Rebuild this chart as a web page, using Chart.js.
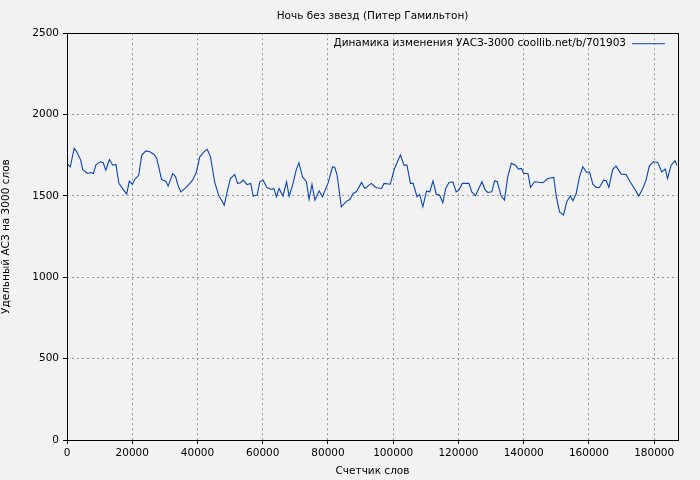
<!DOCTYPE html>
<html>
<head>
<meta charset="utf-8">
<script src="https://cdn.jsdelivr.net/npm/chart.js@4/dist/chart.umd.min.js"></script>
<style>
  html, body { margin: 0; padding: 0; background: #f2f2f2; }
  #wrap { width: 700px; height: 480px; }
</style>
</head>
<body>
<div id="wrap"><canvas id="chart" width="700" height="480"></canvas></div>
<script>
// счетчик слов (ось X)
const wordCounts = [
  0, 1000, 2200, 3000, 4200, 4800, 6200, 7300, 8100, 8900,
  10300, 11100, 11900, 13000, 14000, 15000, 15900, 17200, 18300, 19100,
  20000, 20800, 22000, 22900, 24200, 25400, 26700, 27500, 29000, 30300,
  31000, 32400, 33300, 34100, 34900, 36700, 38500, 39700, 40700, 42000,
  43000, 44000, 45300, 46600, 47400, 48200, 49100, 50100, 51400, 52300,
  53200, 54000, 55200, 56300, 57100, 58300, 59100, 60100, 61300, 62700,
  63400, 64200, 65000, 66200, 67300, 68100, 69300, 70300, 71100, 72200,
  73400, 74200, 75100, 76000, 77300, 78300, 80000, 81400, 82100, 82800,
  84100, 85700, 86700, 87700, 88700, 90300, 91300, 92600, 93300, 94800,
  96400, 97200, 99100, 100400, 102200, 103300, 104200, 105300, 106100, 107300,
  108100, 109100, 110200, 111200, 112200, 113200, 114200, 115200, 116100, 117100,
  118300, 119300, 120100, 121200, 123200, 124100, 125200, 127200, 128200, 129000,
  130200, 131100, 131900, 133100, 134100, 135100, 136200, 137500, 138400, 139300,
  140000, 141300, 142100, 143300, 145900, 147400, 149200, 150000, 151000, 152200,
  153200, 154300, 155100, 156100, 157100, 158100, 159300, 160200, 161200, 162200,
  163200, 164500, 165300, 166100, 167300, 168300, 169900, 171400, 172600, 173600,
  175300, 176500, 177500, 178500, 179800, 181100, 182300, 183400, 184100, 185200,
  186400, 187000
];

// удельный АСЗ на 3000 слов
const asz3000 = [
  1700, 1679, 1792, 1771, 1720, 1663, 1638, 1644, 1638, 1693,
  1710, 1704, 1658, 1724, 1689, 1693, 1577, 1540, 1511, 1591,
  1572, 1601, 1628, 1751, 1777, 1771, 1755, 1730, 1601, 1591,
  1560, 1638, 1617, 1560, 1525, 1556, 1597, 1648, 1740, 1771,
  1786, 1740, 1581, 1499, 1474, 1443, 1525, 1607, 1632, 1577,
  1581, 1597, 1570, 1577, 1499, 1505, 1587, 1597, 1552, 1540,
  1546, 1495, 1546, 1499, 1587, 1499, 1577, 1663, 1704, 1617,
  1587, 1478, 1572, 1474, 1531, 1495, 1577, 1679, 1675, 1628,
  1433, 1468, 1478, 1515, 1525, 1583, 1546, 1566, 1577, 1550,
  1546, 1577, 1572, 1669, 1751, 1689, 1689, 1577, 1577, 1495,
  1509, 1433, 1529, 1525, 1593, 1509, 1505, 1458, 1546, 1583,
  1587, 1525, 1536, 1577, 1577, 1525, 1501, 1587, 1536, 1521,
  1525, 1593, 1587, 1499, 1474, 1617, 1700, 1689, 1665, 1669,
  1638, 1638, 1552, 1587, 1581, 1607, 1614, 1495, 1402, 1382,
  1464, 1501, 1470, 1515, 1617, 1679, 1644, 1648, 1572, 1552,
  1552, 1597, 1593, 1552, 1663, 1683, 1634, 1632, 1587, 1556,
  1499, 1546, 1597, 1683, 1710, 1706, 1648, 1665, 1607, 1689,
  1716, 1689
];

const xTicks = [0, 20000, 40000, 60000, 80000, 100000, 120000, 140000, 160000, 180000];
const yTicks = [0, 500, 1000, 1500, 2000, 2500];

const lineColor = '#0a44b3';
const legendLabel = 'Динамика изменения УАСЗ-3000 coollib.net/b/701903';

const points = wordCounts.map((w, i) => ({ x: w, y: asz3000[i] }));

// рамка вокруг области графика и легенда внутри неё
const framePlugin = {
  id: 'frame',
  afterDraw(chart) {
    const { ctx, chartArea: a } = chart;
    ctx.save();
    ctx.strokeStyle = '#000';
    ctx.lineWidth = 1;
    ctx.strokeRect(Math.round(a.left) + 0.5, Math.round(a.top) + 0.5,
      Math.round(a.right - a.left), Math.round(a.bottom - a.top));

    ctx.font = '10.5px "DejaVu Sans"';
    ctx.fillStyle = '#000';
    ctx.textBaseline = 'middle';
    ctx.textAlign = 'right';
    const ly = a.top + 10;
    ctx.fillText(legendLabel, a.right - 52, ly);
    ctx.strokeStyle = lineColor;
    ctx.beginPath();
    ctx.moveTo(a.right - 46, ly + 0.5);
    ctx.lineTo(a.right - 13, ly + 0.5);
    ctx.stroke();
    ctx.restore();
  }
};

const tickFont = { family: 'DejaVu Sans', size: 10.5 };

new Chart(document.getElementById('chart'), {
  type: 'line',
  data: {
    datasets: [{
      label: legendLabel,
      data: points,
      borderColor: lineColor,
      borderWidth: 1.1,
      pointRadius: 0,
      tension: 0,
      fill: false
    }]
  },
  options: {
    responsive: false,
    animation: false,
    layout: { padding: { top: 0, right: 22, bottom: 0, left: 0 } },
    plugins: {
      legend: { display: false },
      tooltip: { enabled: false },
      title: {
        display: true,
        fullSize: false,
        text: 'Ночь без звезд (Питер Гамильтон)',
        color: '#000',
        font: { family: 'DejaVu Sans', size: 10.5, weight: 'normal', lineHeight: 1.2 },
        padding: { top: 10, bottom: 10.6 }
      }
    },
    scales: {
      x: {
        type: 'linear',
        min: 0,
        max: 187300,
        afterFit(scale) { scale.height = 40; },
        afterBuildTicks(scale) { scale.ticks = xTicks.map(v => ({ value: v })); },
        ticks: {
          color: '#000',
          font: tickFont,
          padding: 3,
          maxRotation: 0,
          autoSkip: false,
          callback: v => String(v)
        },
        grid: {
          color: '#999',
          tickColor: '#000',
          tickLength: 4,
          tickBorderDash: []
        },
        border: { display: false, dash: [2, 3] },
        title: {
          display: true,
          text: 'Счетчик слов',
          color: '#000',
          font: tickFont,
          padding: { top: 0, bottom: 2 }
        }
      },
      y: {
        min: 0,
        max: 2500,
        afterFit(scale) { scale.width = 67; },
        afterBuildTicks(scale) { scale.ticks = yTicks.map(v => ({ value: v })); },
        ticks: {
          color: '#000',
          font: tickFont,
          padding: 4,
          callback: v => String(v)
        },
        grid: {
          color: '#999',
          tickColor: '#000',
          tickLength: 4,
          tickBorderDash: []
        },
        border: { display: false, dash: [2, 3] },
        title: {
          display: true,
          text: 'Удельный АСЗ на 3000 слов',
          color: '#000',
          font: tickFont,
          padding: { top: 0, bottom: 4 }
        }
      }
    }
  },
  plugins: [framePlugin]
});
</script>
</body>
</html>
